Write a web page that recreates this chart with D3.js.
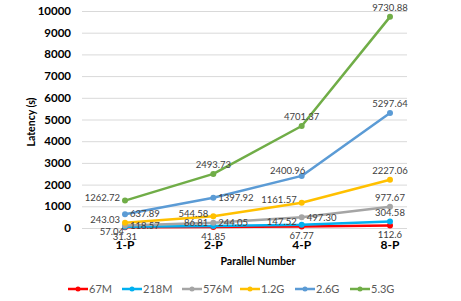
<!DOCTYPE html>
<html>
<head>
<script src="https://d3js.org/d3.v7.min.js"></script>
<style>
body { margin: 0; background: #fff; }
svg { font-family: Lato, "Open Sans", sans-serif; }
.grid line { stroke: #d9d9d9; stroke-width: 1px; }
.tick-y, .tick-x { font-weight: bold; fill: #000; }
.dlabel { font-size: 9.5px; fill: #404040; }
.legend text { font-size: 11px; fill: #595959; }
</style>
</head>
<body>
<svg width="461" height="301"></svg>
<script>
const categories = ["1-P", "2-P", "4-P", "8-P"];
const yTicks = [0, 1000, 2000, 3000, 4000, 5000, 6000, 7000, 8000, 9000, 10000];
const seriesNames = ["67M", "218M", "576M", "1.2G", "2.6G", "5.3G"];
const v67M = [31.31, 41.85, 67.77, 112.6];
const v218M = [57.04, 86.81, 147.52, 304.58];
const v576M = [118.57, 244.05, 497.30, 977.67];
const v12G = [243.03, 544.58, 1161.57, 2227.06];
const v26G = [637.89, 1397.92, 2400.96, 5297.64];
const v53G = [1262.72, 2493.73, 4701.37, 9730.88];
const labelText = [
  ["31.31", "41.85", "67.77", "112.6"],
  ["57.04", "86.81", "147.52", "304.58"],
  ["118.57", "244.05", "497.30", "977.67"],
  ["243.03", "544.58", "1161.57", "2227.06"],
  ["637.89", "1397.92", "2400.96", "5297.64"],
  ["1262.72", "2493.73", "4701.37", "9730.88"]
];

// styles
const colors = ["#ff0000", "#00b0f0", "#a5a5a5", "#ffc000", "#5b9bd5", "#70ad47"];
const labelPos = [
  ["below", "below", "below", "below"],
  ["belowleft", "left", "left", "above"],
  ["right", "right", "right", "above"],
  ["left", "left", "left", "above"],
  ["right", "right", "aboveleft", "above"],
  ["left", "above", "above", "above"]
];

const allValues = [v67M, v218M, v576M, v12G, v26G, v53G];
const series = seriesNames.map((name, i) => ({
  name, color: colors[i],
  points: allValues[i].map((v, j) => ({ cat: categories[j], v, label: labelText[i][j], pos: labelPos[i][j] }))
}));

const svg = d3.select("svg");
svg.append("rect").attr("width", 461).attr("height", 301).attr("fill", "#fff");

const x = d3.scalePoint().domain(categories).range([125, 390]);
const y = d3.scaleLinear().domain([0, 10000]).range([228, 11]);

// gridlines
svg.append("g").attr("class", "grid")
  .selectAll("line").data(yTicks).enter().append("line")
  .attr("x1", 82).attr("x2", 407)
  .attr("y1", d => y(d) + 0.5).attr("y2", d => y(d) + 0.5);

// y tick labels
svg.append("g").selectAll("text").data(yTicks).enter().append("text")
  .attr("class", "tick-y")
  .attr("x", 71).attr("y", d => y(d)).attr("dy", "0.35em")
  .attr("text-anchor", "end").attr("font-size", 11.5)
  .text(d => d);

// x tick labels
svg.append("g").selectAll("text").data(categories).enter().append("text")
  .attr("class", "tick-x")
  .attr("x", d => x(d)).attr("y", 249)
  .attr("text-anchor", "middle").attr("font-size", 12)
  .text(d => d);

// axis titles
svg.append("text")
  .attr("x", 258).attr("y", 265).attr("text-anchor", "middle")
  .attr("font-size", 10.5).attr("font-weight", "bold")
  .text("Parallel Number");
svg.append("text")
  .attr("transform", "translate(35,122) rotate(-90)")
  .attr("text-anchor", "middle")
  .attr("font-size", 10.5).attr("font-weight", "bold")
  .text("Latency (s)");

const line = d3.line().x(d => x(d.cat)).y(d => y(d.v));

const sg = svg.append("g").selectAll("g").data(series).enter().append("g");
sg.append("path")
  .attr("d", d => line(d.points))
  .attr("fill", "none").attr("stroke", d => d.color)
  .attr("stroke-width", 2.5).attr("stroke-linejoin", "round");
sg.selectAll("circle").data(d => d.points.map(p => ({ ...p, color: d.color }))).enter()
  .append("circle")
  .attr("cx", d => x(d.cat)).attr("cy", d => y(d.v)).attr("r", 3)
  .attr("fill", d => d.color);

// data labels
const off = {
  above: [0, -9, "middle"],
  below: [0, 9.5, "middle"],
  left: [-5, -3, "end"],
  right: [5, 0, "start"],
  aboveleft: [-14, -5, "middle"],
  belowleft: [-13, 5, "middle"]
};
const labels = [];
series.forEach(s => s.points.forEach(p => labels.push(p)));
svg.append("g").selectAll("text").data(labels).enter().append("text")
  .attr("class", "dlabel")
  .attr("x", d => x(d.cat) + off[d.pos][0])
  .attr("y", d => y(d.v) + off[d.pos][1])
  .attr("dy", "0.35em")
  .attr("text-anchor", d => off[d.pos][2])
  .text(d => d.label);

// legend
const legendX = [68, 122, 182, 240, 295, 350];
const lg = svg.append("g").attr("class", "legend")
  .selectAll("g").data(series).enter().append("g")
  .attr("transform", (d, i) => `translate(${legendX[i]},289)`);
lg.append("line").attr("x1", 0).attr("x2", 20).attr("stroke", d => d.color).attr("stroke-width", 2.5);
lg.append("circle").attr("cx", 10).attr("r", 2.5).attr("fill", d => d.color);
lg.append("text").attr("x", 21).attr("dy", "0.35em").text(d => d.name);
</script>
</body>
</html>
